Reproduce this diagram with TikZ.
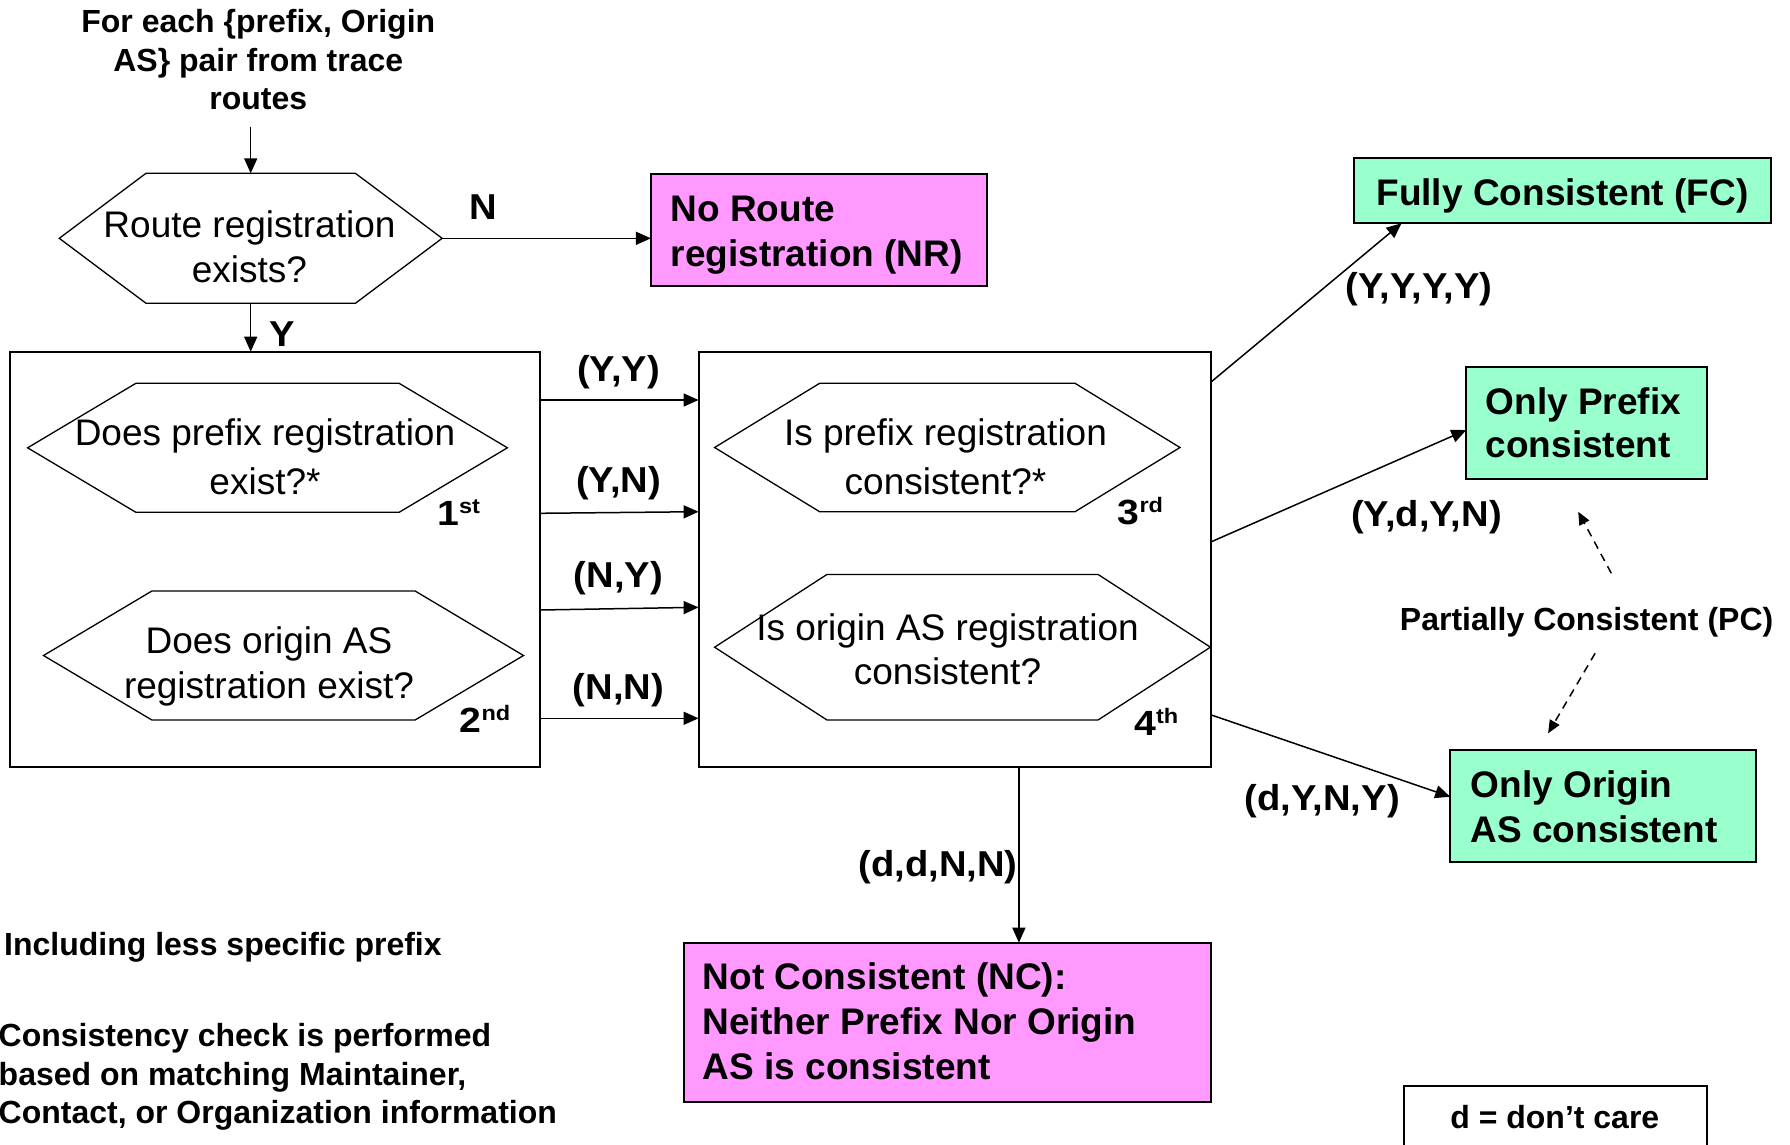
\documentclass[tikz,border=0pt]{standalone}
\usepackage{fontspec}
\setmainfont{Liberation Sans}
\newfontfamily\midsans[FakeStretch=1.12]{Liberation Sans}
\newfontfamily\tuplesans[FakeStretch=1.06]{Liberation Sans}
\usetikzlibrary{arrows.meta}
\definecolor{outpink}{HTML}{FF99FF}
\definecolor{outgreen}{HTML}{99FFCC}
% hexagonal decision outline: name, cx, cy, half width, half top edge, half height
\newcommand\hexshape[6]{%
  \begin{scope}[shift={(#2,#3)}]
    \draw[hexline] (-#4,0) -- (-#5,-#6) -- (#5,-#6) -- (#4,0) -- (#5,#6) -- (-#5,#6) -- cycle;
    \coordinate (#1-w) at (-#4,0);
    \coordinate (#1-e) at (#4,0);
    \coordinate (#1-n) at (0,-#6);
    \coordinate (#1-s) at (0,#6);
  \end{scope}}
% rectangle node given by its corners: name, x1, y1, x2, y2, style
\newcommand\rectnode[6]{%
  \pgfmathsetmacro\rnx{(#2+#4)/2}\pgfmathsetmacro\rny{(#3+#5)/2}%
  \pgfmathsetmacro\rnw{#4-#2}\pgfmathsetmacro\rnh{#5-#3}%
  \node[#6, minimum width=\rnw pt, minimum height=\rnh pt] (#1) at (\rnx,\rny) {};}
% ordinal number with raised suffix
\newcommand\ordn[2]{#1\raisebox{12pt}{\fontsize{21}{21}\selectfont #2}}
\begin{document}
\begin{tikzpicture}[x=1pt, y=-1pt, line join=miter,
  hexline/.style={line width=1.3pt},
  frame/.style={draw, line width=2pt, inner sep=0pt, outer sep=0pt},
  pinkbox/.style={frame, fill=outpink},
  greenbox/.style={frame, fill=outgreen},
  flow/.style={-{Triangle[length=15pt,width=13pt]}, line width=1.5pt},
  dashflow/.style={-{Triangle[length=13pt,width=11pt]}, line width=1.5pt, dash pattern=on 8pt off 6pt},
  qtext/.style={font=\fontsize{37}{#1}\selectfont, align=center, inner sep=0pt, anchor=base},
  btext/.style={font=\fontsize{37}{#1}\selectfont\bfseries, align=left, inner sep=0pt, anchor=base west},
  tuplelab/.style={font=\tuplesans\fontsize{36}{40}\selectfont\bfseries, inner sep=0pt, anchor=base},
  note/.style={font=\fontsize{32}{38.3}\selectfont\bfseries, inner sep=0pt},
  ordinal/.style={font=\midsans\fontsize{35}{38}\selectfont\bfseries, inner sep=0pt, anchor=base west}]
\useasboundingbox (0,0) rectangle (1790,1144);

% start text (multi-line nodes are placed by the baseline of their last line)
\node[note, align=center, anchor=base] (start) at (258.3,109.5)
  {For each \{prefix, Origin\\AS\} pair from trace\\routes};
\coordinate (startfoot) at (250.7,126.7);

% decision outlines
\hexshape{hq0}{250.7}{238.3}{191.4}{104.7}{65}
\hexshape{hq1}{267.5}{447.8}{239.9}{131.6}{64.5}
\hexshape{hq2}{283.5}{655.5}{240}{131.6}{64.5}
\hexshape{hq3}{947.3}{447.5}{232.7}{127.7}{64.2}
\hexshape{hq4}{962.5}{647.2}{247.9}{135.5}{72.8}

\node[qtext=45] (q0) at (249.5,282.5) {Route registration\\exists?};
\node[qtext=49] (q1) at (265,494) {Does prefix registration\\exist?*};
\node[qtext=45] (q2) at (269,698) {Does origin AS\\registration exist?};
\node[qtext=49] (q3) at (945.5,494) {Is prefix registration\\consistent?*};
\node[qtext=43.3] (q4) at (947.5,684) {Is origin AS registration\\consistent?};

\node[ordinal] (o1) at (437,525) {\ordn{1}{st}};
\node[ordinal] (o2) at (459.5,732.3) {\ordn{2}{nd}};
\node[ordinal] (o3) at (1117.5,524) {\ordn{3}{rd}};
\node[ordinal] (o4) at (1134,735.6) {\ordn{4}{th}};

% grouping frames
\rectnode{b1}{10.1}{351.7}{539.6}{766.7}{frame}
\rectnode{b2}{698.6}{351.7}{1211.4}{766.7}{frame}

% outcome boxes
\rectnode{nr}{650.9}{174}{987.3}{286}{pinkbox}
\node[btext=44.3] (nrt) at (670.5,266) {No Route\\registration (NR)};
\rectnode{fc}{1354.4}{158.3}{1770.7}{222.7}{greenbox}
\node[btext=44, anchor=base] (fct) at (1562.5,205) {Fully Consistent (FC)};
\rectnode{op}{1466.3}{366.7}{1707.4}{479}{greenbox}
\node[btext=43.4] (opt) at (1485.5,457.5) {Only Prefix\\consistent};
\rectnode{oo}{1450.2}{750}{1755.8}{861.7}{greenbox}
\node[btext=45] (oot) at (1470.5,842.5) {Only Origin\\AS consistent};
\rectnode{nc}{683.8}{942.7}{1211.3}{1101.7}{pinkbox}
\node[btext=45] (nct) at (702.5,1079.3) {Not Consistent (NC):\\Neither Prefix Nor Origin\\AS is consistent};
\rectnode{dc}{1403.8}{1086}{1706.5}{1160}{frame}
\node[note, anchor=base] (dct) at (1554.8,1128.3) {d = don’t care};

% flow from the start
\draw[flow] (startfoot) -- (hq0-n);
\draw[flow] (hq0-e) -- (nr.west |- hq0-e);
\node[tuplelab] (nlab) at (483,219) {N};
\draw[flow] (hq0-s) -- (hq0-s |- b1.north);
\node[tuplelab] (ylab) at (282.2,346.7) {Y};

% answers of the existence checks
\coordinate (p1a) at (0,400);   \coordinate (p1b) at (0,400);
\coordinate (p2a) at (0,513.3); \coordinate (p2b) at (0,511.7);
\coordinate (p3a) at (0,610);   \coordinate (p3b) at (0,607.3);
\coordinate (p4a) at (0,718.3); \coordinate (p4b) at (0,718.3);
\draw[flow] (b1.east |- p1a) -- (b2.west |- p1b);
\draw[flow] (b1.east |- p2a) -- (b2.west |- p2b);
\draw[flow] (b1.east |- p3a) -- (b2.west |- p3b);
\draw[flow] (b1.east |- p4a) -- (b2.west |- p4b);
\node[tuplelab] (lyy) at (618.5,381) {(Y,Y)};
\node[tuplelab] (lyn) at (618.5,492.7) {(Y,N)};
\node[tuplelab] (lny) at (618.5,587.7) {(N,Y)};
\node[tuplelab] (lnn) at (618.5,699.3) {(N,N)};

% outcomes of the consistency checks
\coordinate (fcout) at (0,381.7);  \coordinate (fcin) at (1401.5,223.3);
\coordinate (opout) at (0,541.7);  \coordinate (opin) at (0,430);
\coordinate (ooout) at (0,715);    \coordinate (ooin) at (0,796.7);
\coordinate (ncx) at (1018.9,0);
\draw[flow] (b2.east |- fcout) -- (fcin);
\draw[flow] (b2.east |- opout) -- (op.west |- opin);
\draw[flow] (b2.east |- ooout) -- (oo.west |- ooin);
\draw[flow] (b2.south -| ncx) -- (nc.north -| ncx);
\node[tuplelab] (lyyyy) at (1419,298.5) {(Y,Y,Y,Y)};
\node[tuplelab] (lydyn) at (1426.5,526) {(Y,d,Y,N)};
\node[tuplelab] (ldyny) at (1322.3,810.8) {(d,Y,N,Y)};
\node[tuplelab] (lddnn) at (938,876) {(d,d,N,N)};

% partial consistency
\node[note, anchor=base] (pc) at (1586.6,630) {Partially Consistent (PC)};
\coordinate (pcup) at (1611.3,573.3);  \coordinate (pcupend) at (1578.2,511.7);
\coordinate (pcdn) at (1595.1,653.3);  \coordinate (pcdnend) at (1548.1,733.3);
\draw[dashflow] (pcup) -- (pcupend);
\draw[dashflow] (pcdn) -- (pcdnend);

% footnotes
\node[note, anchor=base west] (fn1) at (4,955) {Including less specific prefix};
\node[note, anchor=base west, align=left] (fn2) at (-1.5,1123.3)
  {Consistency check is performed\\based on matching Maintainer,\\Contact, or Organization information};
\end{tikzpicture}
\end{document}
